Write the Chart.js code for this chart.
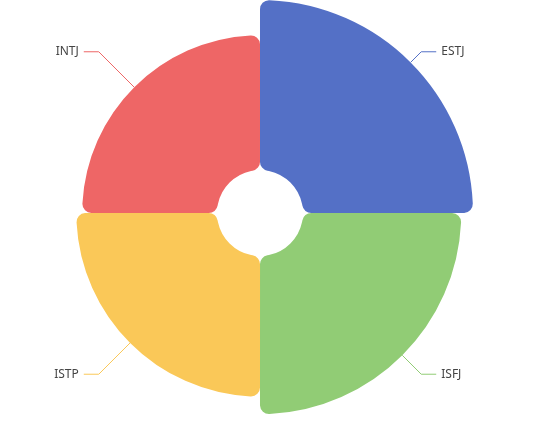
<!DOCTYPE html>
<html>
<head>
<meta charset="utf-8">
<script src="https://cdn.jsdelivr.net/npm/chart.js@4"></script>
<style>
  html, body { margin: 0; padding: 0; background: #fff; overflow: hidden; }
  #wrap { width: 551px; height: 426px; position: relative; }
</style>
</head>
<body>
<div id="wrap"><canvas id="rose"></canvas></div>
<script>
const categories = ['ESTJ', 'ISFJ', 'ISTP', 'INTJ'];
const values = [29, 27, 24, 23];
const colors = ['#5470c6', '#91cc75', '#fac858', '#ee6666'];

// hole in the middle as a share of the outer radius
const innerRatio = 43 / 213;
const maxValue = Math.max(...values);
// pick the scale min so that value 0 sits on the hole's edge
const scaleMin = -maxValue * innerRatio / (1 - innerRatio);

// polarArea has no cutout, so push every arc's inner edge out to value 0
const holePlugin = {
    id: 'hole',
    afterDatasetsUpdate(chart) {
        const scale = chart.scales.r;
        const inner = scale.getDistanceFromCenterForValue(0);
        chart.getDatasetMeta(0).data.forEach(arc => {
            arc.innerRadius = inner;
        });
    }
};

// outside labels with a bent leader line, like the pie labels
const labelPlugin = {
    id: 'roseLabels',
    afterDatasetsDraw(chart) {
        const ctx = chart.ctx;
        const arcs = chart.getDatasetMeta(0).data;
        const maxR = Math.max(...arcs.map(a => a.outerRadius));
        const len1 = 15, len2 = 15;

        ctx.save();
        ctx.font = '12px "Noto Sans", sans-serif';
        ctx.textBaseline = 'middle';
        arcs.forEach((arc, i) => {
            const mid = (arc.startAngle + arc.endAngle) / 2;
            const dx = Math.cos(mid), dy = Math.sin(mid);
            const side = dx < 0 ? -1 : 1;
            const x1 = arc.x + dx * arc.outerRadius;
            const y1 = arc.y + dy * arc.outerRadius;
            const x2 = arc.x + dx * (maxR + len1);
            const y2 = arc.y + dy * (maxR + len1);
            const x3 = x2 + side * len2;

            ctx.strokeStyle = colors[i];
            ctx.lineWidth = 1;
            ctx.beginPath();
            ctx.moveTo(x1, y1);
            ctx.lineTo(x2, y2);
            ctx.lineTo(x3, y2);
            ctx.stroke();

            ctx.fillStyle = '#444';
            ctx.textAlign = side < 0 ? 'right' : 'left';
            ctx.fillText(categories[i], x3 + side * 5, y2);
        });
        ctx.restore();
    }
};

new Chart(document.getElementById('rose'), {
    type: 'polarArea',
    data: {
        labels: categories,
        datasets: [{
            data: values,
            backgroundColor: colors,
            borderWidth: 0,
            borderRadius: 9
        }]
    },
    options: {
        responsive: true,
        maintainAspectRatio: false,
        animation: false,
        layout: {
            padding: { left: 0, right: 31, top: 0, bottom: 0 }
        },
        scales: {
            r: {
                min: scaleMin,
                max: maxValue,
                grid: { display: false },
                angleLines: { display: false },
                ticks: { display: false },
                pointLabels: { display: false }
            }
        },
        plugins: {
            legend: { display: false },
            tooltip: { enabled: false }
        }
    },
    plugins: [holePlugin, labelPlugin]
});
</script>
</body>
</html>
